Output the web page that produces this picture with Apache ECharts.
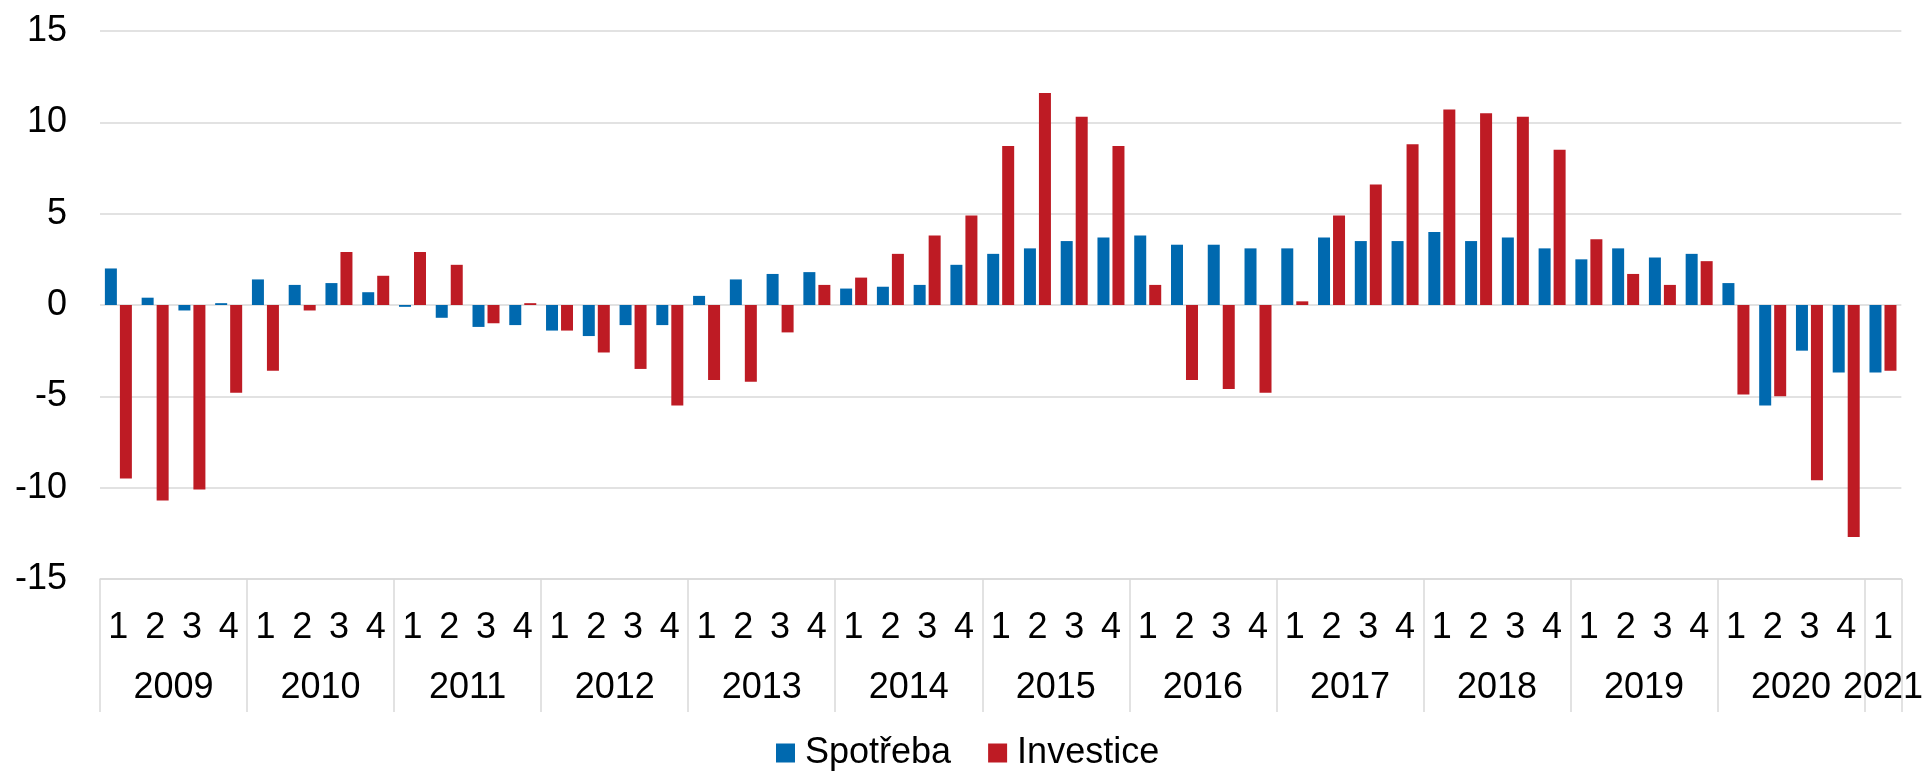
<!DOCTYPE html>
<html>
<head>
<meta charset="utf-8">
<script src="https://cdn.jsdelivr.net/npm/echarts@6/dist/echarts.min.js"></script>
<style>
html,body{margin:0;padding:0;background:#fff;}
#chart{width:1926px;height:771px;}
</style>
</head>
<body>
<div id="chart"></div>
<script>
var categories = [
  '2009-1','2009-2','2009-3','2009-4',
  '2010-1','2010-2','2010-3','2010-4',
  '2011-1','2011-2','2011-3','2011-4',
  '2012-1','2012-2','2012-3','2012-4',
  '2013-1','2013-2','2013-3','2013-4',
  '2014-1','2014-2','2014-3','2014-4',
  '2015-1','2015-2','2015-3','2015-4',
  '2016-1','2016-2','2016-3','2016-4',
  '2017-1','2017-2','2017-3','2017-4',
  '2018-1','2018-2','2018-3','2018-4',
  '2019-1','2019-2','2019-3','2019-4',
  '2020-1','2020-2','2020-3','2020-4',
  '2021-1'
];
var spotreba = [
  2.0, 0.4, -0.3, 0.1,
  1.4, 1.1, 1.2, 0.7,
  -0.1, -0.7, -1.2, -1.1,
  -1.4, -1.7, -1.1, -1.1,
  0.5, 1.4, 1.7, 1.8,
  0.9, 1.0, 1.1, 2.2,
  2.8, 3.1, 3.5, 3.7,
  3.8, 3.3, 3.3, 3.1,
  3.1, 3.7, 3.5, 3.5,
  4.0, 3.5, 3.7, 3.1,
  2.5, 3.1, 2.6, 2.8,
  1.2, -5.5, -2.5, -3.7,
  -3.7
];
var investice = [
  -9.5, -10.7, -10.1, -4.8,
  -3.6, -0.3, 2.9, 1.6,
  2.9, 2.2, -1.0, 0.1,
  -1.4, -2.6, -3.5, -5.5,
  -4.1, -4.2, -1.5, 1.1,
  1.5, 2.8, 3.8, 4.9,
  8.7, 11.6, 10.3, 8.7,
  1.1, -4.1, -4.6, -4.8,
  0.2, 4.9, 6.6, 8.8,
  10.7, 10.5, 10.3, 8.5,
  3.6, 1.7, 1.1, 2.4,
  -4.9, -5.0, -9.6, -12.7,
  -3.6
];
var seriesNames = ['Spotřeba', 'Investice'];
var yMin = -15, yMax = 15, yInterval = 5;

var FONT = "'Liberation Sans', Arial, sans-serif";
var GRID_COLOR = '#d9d9d9';

var chart = echarts.init(document.getElementById('chart'), null, {renderer: 'canvas'});
chart.setOption({
  animation: false,
  backgroundColor: '#ffffff',
  textStyle: {fontFamily: FONT},
  grid: {left: 100, right: 23, top: 31, bottom: 192, containLabel: false},
  legend: {
    data: seriesNames,
    left: 776,
    top: 735,
    padding: 0,
    icon: 'rect',
    itemWidth: 19,
    itemHeight: 19,
    itemGap: 37,
    textStyle: {fontSize: 36, color: '#000', fontFamily: FONT, padding: [0, 0, 0, 5]}
  },
  xAxis: [
    {
      type: 'category',
      position: 'bottom',
      data: categories,
      axisLine: {onZero: false, lineStyle: {color: GRID_COLOR, width: 1.5}},
      axisTick: {show: false},
      axisLabel: {
        interval: 0,
        margin: 31,
        fontSize: 36,
        color: '#000',
        fontFamily: FONT,
        formatter: function (v) { return v.split('-')[1]; }
      },
      splitLine: {show: false}
    },
    {
      type: 'category',
      position: 'bottom',
      data: categories,
      axisLine: {show: false, onZero: false},
      axisTick: {
        show: true,
        interval: function (i) { return i % 4 === 0; },
        length: 133,
        lineStyle: {color: GRID_COLOR, width: 1.5}
      },
      axisLabel: {
        interval: 0,
        margin: 91,
        fontSize: 36,
        color: '#000',
        fontFamily: FONT,
        formatter: function (v, i) {
          var parts = v.split('-');
          var yr = parts[0], q = parts[1];
          var isLast = (i === categories.length - 1);
          var nextSameYear = categories[i + 2] && categories[i + 2].split('-')[0] === yr;
          if (q === '2' && nextSameYear) return '{s|' + yr + '}';
          if (q === '1' && isLast) return '{c|' + yr + '}';
          return '';
        },
        rich: {
          s: {fontSize: 36, color: '#000', fontFamily: FONT, padding: [0, 0, 0, 36.8]},
          c: {fontSize: 36, color: '#000', fontFamily: FONT}
        }
      },
      splitLine: {show: false}
    }
  ],
  yAxis: {
    type: 'value',
    min: yMin,
    max: yMax,
    interval: yInterval,
    axisLine: {show: false},
    axisTick: {show: false},
    axisLabel: {fontSize: 36, color: '#000', margin: 33, fontFamily: FONT},
    splitLine: {lineStyle: {color: GRID_COLOR, width: 1.5}}
  },
  series: [
    {
      name: seriesNames[0],
      type: 'bar',
      data: spotreba,
      barWidth: 12,
      barGap: '25%',
      itemStyle: {color: '#0069AF'}
    },
    {
      name: seriesNames[1],
      type: 'bar',
      data: investice,
      barWidth: 12,
      barGap: '25%',
      itemStyle: {color: '#BE1B24'}
    }
  ]
});
</script>
</body>
</html>
